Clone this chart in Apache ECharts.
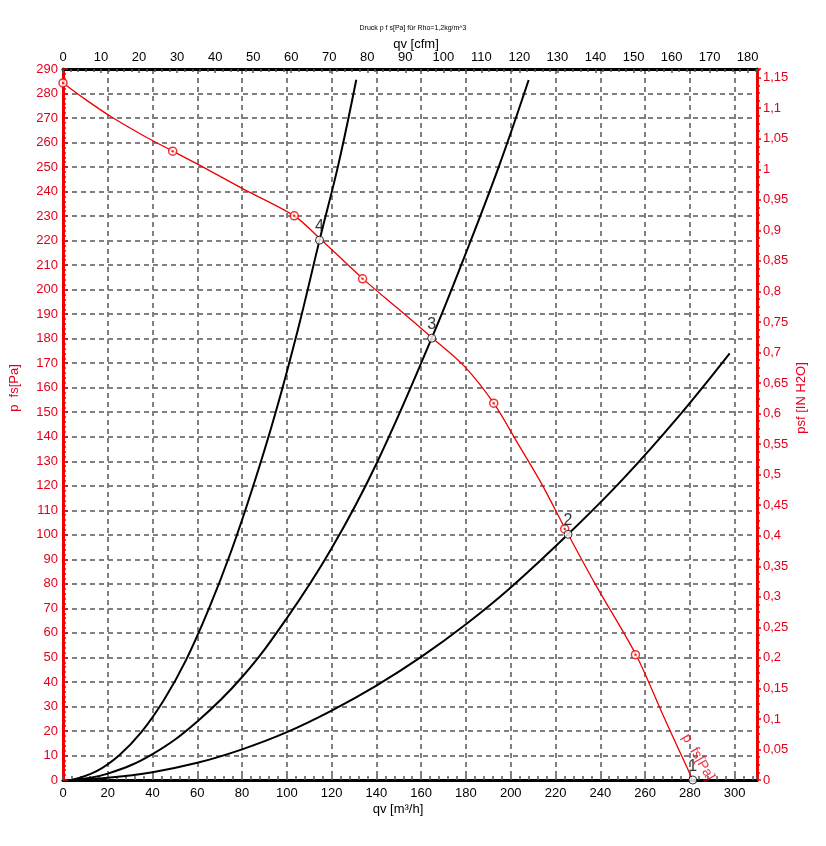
<!DOCTYPE html>
<html>
<head>
<meta charset="utf-8">
<script src="https://cdn.jsdelivr.net/npm/echarts@6/dist/echarts.min.js"></script>
<style>
html,body{margin:0;padding:0;background:#fff;}
#c{width:826px;height:846px;}
</style>
</head>
<body>
<div id="c"></div>
<script>
// ---- data ----
// fan curve p_fs [Pa] vs qv [m3/h]
const fanQ = [0, 10, 21, 35, 49, 62, 80, 103.3, 114.6, 134, 150, 164.7, 179, 192.4, 203, 214, 224, 238, 256, 268, 274, 281.3];
const fanP = [284.3, 277.6, 270.8, 263.3, 256.5, 250.3, 241.3, 230.1, 221, 204.4, 192, 180.5, 169, 153.7, 137.5, 120.5, 103, 79.5, 51, 26.5, 14.5, 0];
// measured points on the fan curve (red markers)
const markQ = [0, 49, 103.3, 133.8, 192.4, 224.1, 255.7];
const markP = [284.3, 256.5, 230.1, 204.4, 153.7, 102.4, 51.1];
// operating points
const opQ = [281.3, 225.6, 164.7, 114.6];
const opP = [0, 100.2, 180.2, 220.2];
const opLabels = ['1', '2', '3', '4'];
// system curves
const sys4Q = [4, 15, 25, 35, 45, 55, 65, 75, 85, 95, 105, 114.6, 123, 131];
const sys4P = [0, 3.6, 10, 19.5, 32.5, 49, 69.5, 93, 120, 150, 184, 220.2, 251, 285.6];
const sys3Q = [4, 20, 40, 60, 80, 100, 120, 140, 164.7, 180, 195, 208];
const sys3P = [0, 2.6, 10.6, 23.9, 42, 66, 94.5, 129, 180.2, 215, 251, 285.5];
const sys2Q = [4, 20, 40, 60, 80, 100, 120, 140, 160, 180, 200, 225.6, 250, 275, 297.8];
const sys2P = [0, 0.9, 3.2, 7, 12.5, 19.5, 28.3, 38.5, 50.2, 63.5, 78.5, 100.2, 122.6, 148.3, 174];
// axis ranges / units
const X_MAX = 310;          // m3/h
const Y_MAX = 290;          // Pa
const M3H_PER_CFM = 1.699011;
const PA_PER_INH2O = 249.0889;
const titleText = 'Druck p f s[Pa] für Rho=1,2kg/m^3';

// ---- build ----
const zip = (a, b) => a.map((v, i) => [v, b[i]]);
const RED = '#ee0000';
const RED_T = '#e4001c';
const FONT = 'Liberation Sans, Arial, sans-serif';
const gridLine = {show: true, lineStyle: {color: '#808080', type: [5, 4], width: 2}};

const chart = echarts.init(document.getElementById('c'), null, {renderer: 'canvas'});
const last = fanQ.length - 1;

const option = {
  backgroundColor: '#fff',
  animation: false,
  textStyle: {fontFamily: FONT},
  title: {
    text: titleText, left: 'center', top: 20,
    textStyle: {fontSize: 7, fontWeight: 'normal', color: '#000', fontFamily: FONT}
  },
  grid: {left: 63, right: 69, top: 69, bottom: 66, containLabel: false},
  xAxis: [
    {
      type: 'value', min: 0, max: X_MAX, interval: 20, position: 'bottom',
      name: 'qv [m³/h]', nameLocation: 'middle', nameGap: 23, nameMoveOverlap: false,
      nameTextStyle: {color: '#000', fontSize: 13, padding: [0, 24, 0, 0]},
      axisLine: {show: true, onZero: false, lineStyle: {color: '#000', width: 3}},
      axisTick: {show: true, inside: true, length: 4, lineStyle: {color: '#555', width: 1.5}},
      minorTick: {show: true, splitNumber: 5, length: 4, lineStyle: {color: '#555', width: 1.5}},
      axisLabel: {color: '#000', fontSize: 13, margin: 7, showMaxLabel: false},
      splitLine: gridLine
    },
    {
      type: 'value', min: 0, max: X_MAX / M3H_PER_CFM, interval: 10, position: 'top',
      name: 'qv [cfm]', nameLocation: 'middle', nameGap: 18, nameMoveOverlap: false,
      nameTextStyle: {color: '#000', fontSize: 13, padding: [0, 0, 0, 12]},
      axisLine: {show: true, onZero: false, lineStyle: {color: '#000', width: 3}},
      axisTick: {show: true, inside: true, length: 4, lineStyle: {color: '#555', width: 1.5}},
      minorTick: {show: true, splitNumber: 5, length: 3, lineStyle: {color: '#555', width: 1.5}},
      axisLabel: {color: '#000', fontSize: 13, margin: 5, showMaxLabel: false},
      splitLine: {show: false}
    }
  ],
  yAxis: [
    {
      type: 'value', min: 0, max: Y_MAX, interval: 10, position: 'left',
      name: 'p  fs[Pa]', nameLocation: 'middle', nameRotate: 90, nameGap: 42, nameMoveOverlap: false,
      nameTextStyle: {color: RED_T, fontSize: 13, padding: [0, 0, 0, 73]},
      axisLine: {show: true, onZero: false, lineStyle: {color: RED, width: 3}},
      axisTick: {show: true, inside: true, length: 5, lineStyle: {color: RED, width: 1.5}},
      minorTick: {show: true, splitNumber: 5, length: 3, lineStyle: {color: RED, width: 1.5}},
      axisLabel: {color: RED_T, fontSize: 13, margin: 5},
      splitLine: gridLine
    },
    {
      type: 'value', min: 0, max: Y_MAX / PA_PER_INH2O, interval: 0.05, position: 'right',
      name: 'psf [IN H2O]', nameLocation: 'middle', nameRotate: 90, nameGap: 38, nameMoveOverlap: false,
      nameTextStyle: {color: RED_T, fontSize: 13, padding: [0, 0, 0, 53]},
      axisLine: {show: true, onZero: false, lineStyle: {color: RED, width: 3}},
      axisTick: {show: true, inside: false, length: 4, lineStyle: {color: RED, width: 1.5}},
      minorTick: {show: true, splitNumber: 4, length: 3, lineStyle: {color: RED, width: 1.5}},
      axisLabel: {
        color: RED_T, fontSize: 13, margin: 6, showMaxLabel: false,
        formatter: v => String(Math.round(v * 100) / 100).replace('.', ',')
      },
      splitLine: {show: false}
    }
  ],
  series: [
    {
      type: 'line', name: 'sys2', data: zip(sys2Q, sys2P), smooth: 0.4,
      showSymbol: false, lineStyle: {color: '#000', width: 2}, z: 3
    },
    {
      type: 'line', name: 'sys3', data: zip(sys3Q, sys3P), smooth: 0.4,
      showSymbol: false, lineStyle: {color: '#000', width: 2}, z: 3
    },
    {
      type: 'line', name: 'sys4', data: zip(sys4Q, sys4P), smooth: 0.4,
      showSymbol: false, lineStyle: {color: '#000', width: 2}, z: 3
    },
    {
      type: 'line', name: 'fan', data: zip(fanQ, fanP), smooth: 0.3,
      showSymbol: false, lineStyle: {color: RED, width: 1.3}, z: 4
    },
    {
      type: 'scatter', name: 'fanMarks', data: zip(markQ, markP), symbol: 'circle', symbolSize: 8,
      itemStyle: {color: '#fff', borderColor: RED, borderWidth: 1.5}, z: 5
    },
    {
      type: 'scatter', name: 'fanMarkDots', data: zip(markQ, markP), symbol: 'circle', symbolSize: 2.5,
      itemStyle: {color: RED}, z: 6
    },
    {
      type: 'scatter', name: 'ops',
      data: opQ.map((q, i) => ({value: [q, opP[i]], name: opLabels[i]})),
      symbol: 'circle', symbolSize: 8,
      itemStyle: {color: '#fff', borderColor: '#000', borderWidth: 1},
      label: {show: true, position: 'top', distance: 1, formatter: p => p.name,
              color: '#000', fontSize: 16, fontFamily: FONT},
      z: 7
    },
    {
      type: 'scatter', name: 'fanLabel',
      data: [[fanQ[last], fanP[last]]],
      symbolSize: 1, itemStyle: {color: 'rgba(0,0,0,0)'}, silent: true,
      label: {show: true, position: 'inside', formatter: 'p  fs[Pa]', rotate: -60,
              offset: [-17, -16], color: RED_T, fontSize: 14, fontFamily: FONT},
      z: 8
    }
  ]
};
chart.setOption(option);
</script>
</body>
</html>
